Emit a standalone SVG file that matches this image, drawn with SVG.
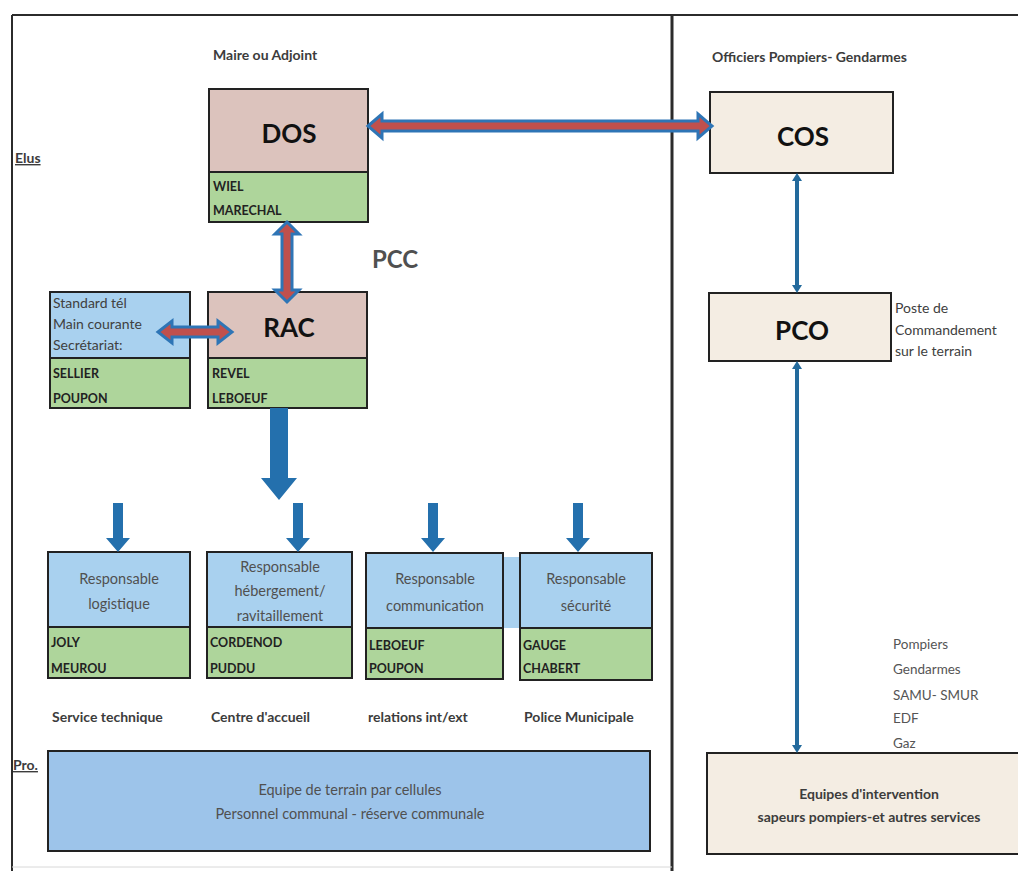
<svg xmlns="http://www.w3.org/2000/svg" width="1018" height="871" viewBox="0 0 1018 871">
<style>
text{font-family:Lato,"Open Sans","Liberation Sans",sans-serif}
.frame{stroke:#2b2b2b;fill:none}
.box{stroke:#222;stroke-width:2}
.pink{fill:#dcc3bd}
.green{fill:#aed59b}
.lblue{fill:#a9d1ef}
.beige{fill:#f4ede3}
.bblue{fill:#9dc4ea}
.big{font-size:26px;font-weight:700;fill:#111;text-anchor:middle}
.name{font-size:12.5px;font-weight:700;fill:#222}
.resp{font-size:14.5px;fill:#505050;text-anchor:middle}
.lbl{font-size:14px;font-weight:700;fill:#3c3c3c}
.side{font-size:14px;fill:#404040}
.list{font-size:13.5px;fill:#555}
.dbl{fill:#c0504d;stroke:#2e75b6;stroke-width:3;stroke-linejoin:miter}
.blu{fill:#2470ad}
.thin{stroke:#236a9c;stroke-width:4;fill:none}
.head{fill:#236a9c}
</style>
<rect x="0" y="0" width="1018" height="871" fill="#ffffff"/>
<g id="frame">
<line class="frame" x1="12" y1="15" x2="1018" y2="15" stroke-width="2"/>
<line class="frame" x1="12" y1="15" x2="12" y2="871" stroke-width="2"/>
<line class="frame" x1="672" y1="15" x2="672" y2="871" stroke-width="3"/>
<line x1="12" y1="867" x2="672" y2="867" stroke="#d8d8d8" stroke-width="1"/>
</g>
<g id="labels">
<text x="15" y="163" class="lbl" text-decoration="underline" fill="#222">Elus</text>
<text x="13" y="770" class="lbl" text-decoration="underline">Pro.</text>
<text x="213" y="60" class="lbl">Maire ou Adjoint</text>
<text x="712" y="62" class="lbl" fill="#505050">Officiers Pompiers- Gendarmes</text>
<text x="372" y="268" style="font-size:24px;font-weight:700;fill:#505050">PCC</text>
<text x="52" y="722" class="lbl">Service technique</text>
<text x="211" y="722" class="lbl">Centre d'accueil</text>
<text x="368" y="722" class="lbl">relations int/ext</text>
<text x="524" y="722" class="lbl">Police Municipale</text>
<text class="side"><tspan x="895" y="313">Poste de</tspan><tspan x="895" y="335">Commandement</tspan><tspan x="895" y="356">sur le terrain</tspan></text>
<text class="list"><tspan x="893" y="649">Pompiers</tspan><tspan x="893" y="674">Gendarmes</tspan><tspan x="893" y="700">SAMU- SMUR</tspan><tspan x="893" y="723">EDF</tspan><tspan x="893" y="748">Gaz</tspan></text>
</g>
<g id="dos">
<rect class="box pink" x="209" y="89" width="159" height="83"/>
<rect class="box green" x="209" y="172" width="159" height="50"/>
<text x="289" y="143" class="big">DOS</text>
<text x="213" y="191" class="name">WIEL</text>
<text x="213" y="215" class="name">MARECHAL</text>
</g>
<g id="rac">
<rect class="box pink" x="208" y="292" width="159" height="66"/>
<rect class="box green" x="208" y="358" width="159" height="50"/>
<text x="289" y="337" class="big">RAC</text>
<text x="212" y="378" class="name">REVEL</text>
<text x="212" y="403" class="name">LEBOEUF</text>
</g>
<g id="secretariat">
<rect class="box lblue" x="50" y="292" width="140" height="66"/>
<rect class="box green" x="50" y="358" width="140" height="50"/>
<text class="side" fill="#222"><tspan x="53" y="308">Standard tél</tspan><tspan x="53" y="329">Main courante</tspan><tspan x="53" y="350">Secrétariat:</tspan></text>
<text x="53" y="378" class="name">SELLIER</text>
<text x="53" y="403" class="name">POUPON</text>
</g>
<g id="cos">
<rect class="box beige" x="710" y="92" width="183" height="81"/>
<text x="803" y="146" class="big">COS</text>
</g>
<g id="pco">
<rect class="box beige" x="709" y="293" width="182" height="68"/>
<text x="802" y="340" class="big">PCO</text>
</g>
<g id="logistique">
<rect class="box lblue" x="48" y="552" width="142" height="75"/>
<rect class="box green" x="48" y="627" width="142" height="51"/>
<text class="resp"><tspan x="119" y="584">Responsable</tspan><tspan x="119" y="609">logistique</tspan></text>
<text x="51" y="647" class="name" fill="#555">JOLY</text>
<text x="51" y="673" class="name">MEUROU</text>
</g>
<g id="hebergement">
<rect class="box lblue" x="207" y="552" width="145" height="75"/>
<rect class="box green" x="207" y="627" width="145" height="51"/>
<text class="resp"><tspan x="280" y="572">Responsable</tspan><tspan x="280" y="596">hébergement/</tspan><tspan x="280" y="621">ravitaillement</tspan></text>
<text x="210" y="647" class="name">CORDENOD</text>
<text x="210" y="673" class="name">PUDDU</text>
</g>
<rect x="503" y="557" width="17" height="71" class="lblue"/>
<g id="communication">
<rect class="box lblue" x="366" y="553" width="137" height="75"/>
<rect class="box green" x="366" y="628" width="137" height="51"/>
<text class="resp"><tspan x="435" y="584">Responsable</tspan><tspan x="435" y="611">communication</tspan></text>
<text x="369" y="650" class="name">LEBOEUF</text>
<text x="369" y="673" class="name">POUPON</text>
</g>
<g id="securite">
<rect class="box lblue" x="520" y="553" width="132" height="75"/>
<rect class="box green" x="520" y="628" width="132" height="52"/>
<text class="resp"><tspan x="586" y="584">Responsable</tspan><tspan x="586" y="611">sécurité</tspan></text>
<text x="523" y="650" class="name" fill="#555">GAUGE</text>
<text x="523" y="673" class="name" fill="#555">CHABERT</text>
</g>
<g id="equipe-terrain">
<rect class="box bblue" x="48" y="751" width="602" height="100"/>
<text class="resp" fill="#555"><tspan x="350" y="795">Equipe de terrain par cellules</tspan><tspan x="350" y="819">Personnel communal - réserve communale</tspan></text>
</g>
<g id="equipes-intervention">
<rect class="box beige" x="707" y="753" width="315" height="101"/>
<text class="lbl" text-anchor="middle" fill="#222"><tspan x="869" y="799">Equipes d'intervention</tspan><tspan x="869" y="822">sapeurs pompiers-et autres services</tspan></text>
</g>
<g id="connectors">
<polygon class="dbl" points="368,126 382,114 382,121 698,121 698,114 712,126 698,138 698,131 382,131 382,138"/>
<polygon class="dbl" points="287,222 299,234 292,234 292,290 299,290 287,302 275,290 282,290 282,234 275,234"/>
<polygon class="dbl" points="158,332 172,321 172,327 218,327 218,321 232,332 218,343 218,337 172,337 172,343"/>
<polygon class="blu" points="270,408 288,408 288,478 297,478 279,500 261,478 270,478"/>
<polygon class="blu" points="113,503 123,503 123,538 130,538 118,552 106,538 113,538"/>
<polygon class="blu" points="293,503 303,503 303,538 310,538 298,552 286,538 293,538"/>
<polygon class="blu" points="428,503 438,503 438,538 445,538 433,552 421,538 428,538"/>
<polygon class="blu" points="573,503 583,503 583,538 590,538 578,552 566,538 573,538"/>
<line class="thin" x1="797" y1="180" x2="797" y2="286"/>
<polygon class="head" points="797,173 802,181 792,181"/>
<polygon class="head" points="797,293 802,285 792,285"/>
<line class="thin" x1="797" y1="368" x2="797" y2="746"/>
<polygon class="head" points="797,361 802,369 792,369"/>
<polygon class="head" points="797,753 802,745 792,745"/>
</g>
</svg>
